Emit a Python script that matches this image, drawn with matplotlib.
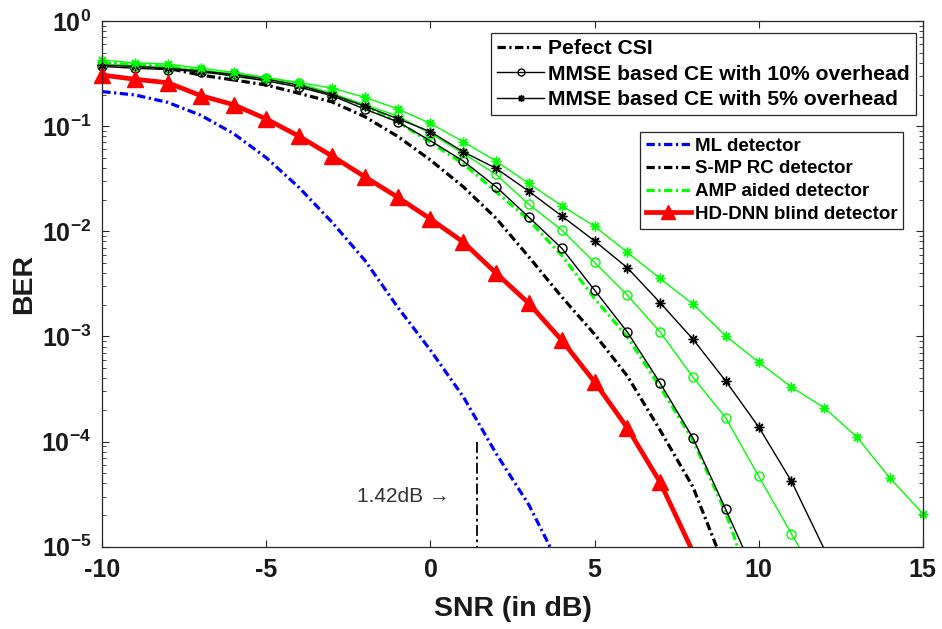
import matplotlib
matplotlib.use('Agg')
import matplotlib.pyplot as plt
from matplotlib.lines import Line2D
import numpy as np

plt.rcParams['font.family'] = ['Liberation Sans', 'DejaVu Sans']
plt.rcParams['mathtext.fontset'] = 'custom'
plt.rcParams['mathtext.rm'] = 'Liberation Sans'
plt.rcParams['mathtext.bf'] = 'Liberation Sans:bold'
plt.rcParams['axes.unicode_minus'] = False

# SNR em dB (todas as curvas comecam em -10)
snr = np.arange(-10, 16)

ber_ml = [0.213, 0.198, 0.168, 0.127, 0.085, 0.05, 0.026, 0.0122, 5.3e-3, 1.9e-3,
          7.4e-4, 2.67e-4, 7.7e-5, 2.5e-5, 6.0e-6]
ber_dnn = [0.306, 0.279, 0.259, 0.195, 0.160, 0.117, 0.080, 0.052, 0.033, 0.0211,
           0.0131, 0.0079, 0.0040, 0.00206, 9.2e-4, 3.7e-4, 1.35e-4, 4.1e-5, 8.9e-6]
ber_smp_csi = [0.395, 0.38, 0.355, 0.306, 0.275, 0.246, 0.205, 0.17, 0.123, 0.08,
               0.0476, 0.0265, 0.0133, 5.7e-3, 2.38e-3, 1.05e-3, 4.2e-4, 1.28e-4, 3.7e-5, 6.0e-6]
ber_amp_csi = [0.40, 0.385, 0.37, 0.335, 0.305, 0.275, 0.24, 0.2, 0.155, 0.11,
               0.07, 0.044, 0.0238, 0.0128, 5.9e-3, 2.3e-3, 9.9e-4, 3.3e-4, 1.03e-4, 2.1e-5, 2.7e-6]
ber_smp_10 = [0.37, 0.355, 0.345, 0.33, 0.3, 0.27, 0.235, 0.195, 0.145, 0.11,
              0.0726, 0.0466, 0.0265, 0.0136, 6.9e-3, 2.76e-3, 1.1e-3, 3.6e-4, 1.08e-4, 2.26e-5, 4.6e-6]
ber_amp_10 = [0.39, 0.375, 0.36, 0.34, 0.315, 0.29, 0.255, 0.205, 0.16, 0.125,
              0.085, 0.055, 0.0347, 0.018, 0.0103, 5.06e-3, 2.47e-3, 1.1e-3, 4.1e-4, 1.68e-4,
              4.7e-5, 1.33e-5, 3.8e-6]
ber_smp_5 = [0.38, 0.37, 0.355, 0.335, 0.31, 0.28, 0.245, 0.2, 0.155, 0.118,
             0.0885, 0.057, 0.0397, 0.024, 0.014, 8.1e-3, 4.5e-3, 2.09e-3, 9.4e-4, 3.76e-4,
             1.38e-4, 4.2e-5, 9.5e-6]
ber_amp_5 = [0.425, 0.40, 0.39, 0.355, 0.325, 0.29, 0.26, 0.23, 0.188, 0.146,
             0.106, 0.071, 0.0466, 0.0285, 0.0175, 0.0112, 6.3e-3, 3.56e-3, 2.03e-3, 1.01e-3,
             5.7e-4, 3.3e-4, 2.1e-4, 1.1e-4, 4.5e-5, 2.07e-5]

gap_snr = 1.42
ymin, ymax = 1e-5, 1.0

verde = '#00ff00'
dashdot = (0, (2.6, 1.1, 0.7, 1.1))
asterisco = (8, 2, 0)

fig = plt.figure(figsize=(9.42, 6.29), dpi=100)
ax = fig.add_axes([0.1086, 0.1308, 0.8709, 0.8358])


def curva(valores, cor, ls, lw, marker=None, ms=6, mfc='none'):
    x = snr[:len(valores)]
    y = np.array(valores)
    ax.plot(x, y, color=cor, linestyle=ls, linewidth=lw)
    if marker is not None:
        # marcadores sem recorte (como no MATLAB), mas so dentro do eixo y
        ym = np.ma.masked_less(y, ymin)
        ax.plot(x, ym, linestyle='none', marker=marker, markersize=ms,
                markerfacecolor=mfc, markeredgecolor=cor, markeredgewidth=1.0,
                clip_on=False)


curva(ber_ml, '#0000ff', dashdot, 2.3)
curva(ber_smp_csi, 'black', dashdot, 2.3)
curva(ber_amp_csi, verde, dashdot, 2.3)
curva(ber_smp_10, 'black', '-', 1.0, 'o', 6.5)
curva(ber_amp_10, verde, '-', 1.0, 'o', 6.5)
curva(ber_smp_5, 'black', '-', 1.0, asterisco, 7)
curva(ber_amp_5, verde, '-', 1.0, asterisco, 7)
curva(ber_dnn, '#ff0000', '-', 3.4, '^', 11.5, mfc='#ff0000')

# marca do ganho de 1.42 dB
ax.plot([gap_snr, gap_snr], [1e-4, ymin], color='black', linestyle=(0, (6, 2, 1.5, 2)),
        linewidth=1.3)
ax.text(0.6, 3e-5, '1.42dB \u2192', ha='right', va='center', fontsize=15,
        color='#333333', fontweight='normal')

ax.set_yscale('log')
ax.set_xlim(-10, 15)
ax.set_ylim(ymin, ymax)

ax.set_xticks([-10, -5, 0, 5, 10, 15])
ax.set_xticklabels(['-10', '-5', '0', '5', '10', '15'], fontweight='bold')
yt = [1e-5, 1e-4, 1e-3, 1e-2, 1e-1, 1e0]
ax.set_yticks(yt)
ax.set_yticklabels([r'$\mathbf{10^{%d}}$' % int(np.log10(v)) for v in yt])

ax.tick_params(which='both', direction='in', top=True, right=True, color='#262626')
ax.tick_params(which='major', length=5, width=0.8, labelsize=18, pad=8,
               labelcolor='#1a1a1a')
ax.tick_params(which='minor', length=3, width=0.6)
ax.tick_params(axis='x', which='minor', bottom=False, top=False)
for s in ax.spines.values():
    s.set_color('#262626')
    s.set_linewidth(0.9)

ax.set_xlabel('SNR (in dB)', fontsize=20.5, fontweight='bold', color='#1a1a1a')
ax.set_ylabel('BER', fontsize=20.5, fontweight='bold', color='#1a1a1a')
ax.xaxis.set_label_coords(0.5, -0.094)
ax.yaxis.set_label_coords(-0.080, 0.5)

# legenda 1: tipo de estimacao de canal
h1 = [Line2D([], [], color='black', linestyle=dashdot, linewidth=2.3),
      Line2D([], [], color='black', linewidth=1.0, marker='o', markersize=5,
             markerfacecolor='none'),
      Line2D([], [], color='black', linewidth=1.0, marker=asterisco, markersize=5)]
l1 = ['Pefect CSI', 'MMSE based CE with 10% overhead', 'MMSE based CE with 5% overhead']
leg1 = ax.legend(h1, l1, loc='upper right', bbox_to_anchor=(0.9918, 0.977),
                 prop={'size': 15.2, 'weight': 'bold'}, fancybox=False, framealpha=1,
                 edgecolor='#262626', handlelength=2.2, handletextpad=0.2,
                 labelspacing=0.3, borderpad=0.3, borderaxespad=0)
leg1.get_frame().set_linewidth(0.9)
ax.add_artist(leg1)

# legenda 2: detectores
h2 = [Line2D([], [], color='#0000ff', linestyle=dashdot, linewidth=2.3),
      Line2D([], [], color='black', linestyle=dashdot, linewidth=2.3),
      Line2D([], [], color=verde, linestyle=dashdot, linewidth=2.3),
      Line2D([], [], color='#ff0000', linewidth=3.4, marker='^', markersize=10)]
l2 = ['ML detector', 'S-MP RC detector', 'AMP aided detector', 'HD-DNN blind detector']
leg2 = ax.legend(h2, l2, loc='upper right', bbox_to_anchor=(0.976, 0.789),
                 prop={'size': 13.5, 'weight': 'bold'}, fancybox=False, framealpha=1,
                 edgecolor='#262626', handlelength=2.4, handletextpad=0.2,
                 labelspacing=0.3, borderpad=0.3, borderaxespad=0)
leg2.get_frame().set_linewidth(0.9)

fig.savefig('out.png', dpi=100)
plt.close(fig)
